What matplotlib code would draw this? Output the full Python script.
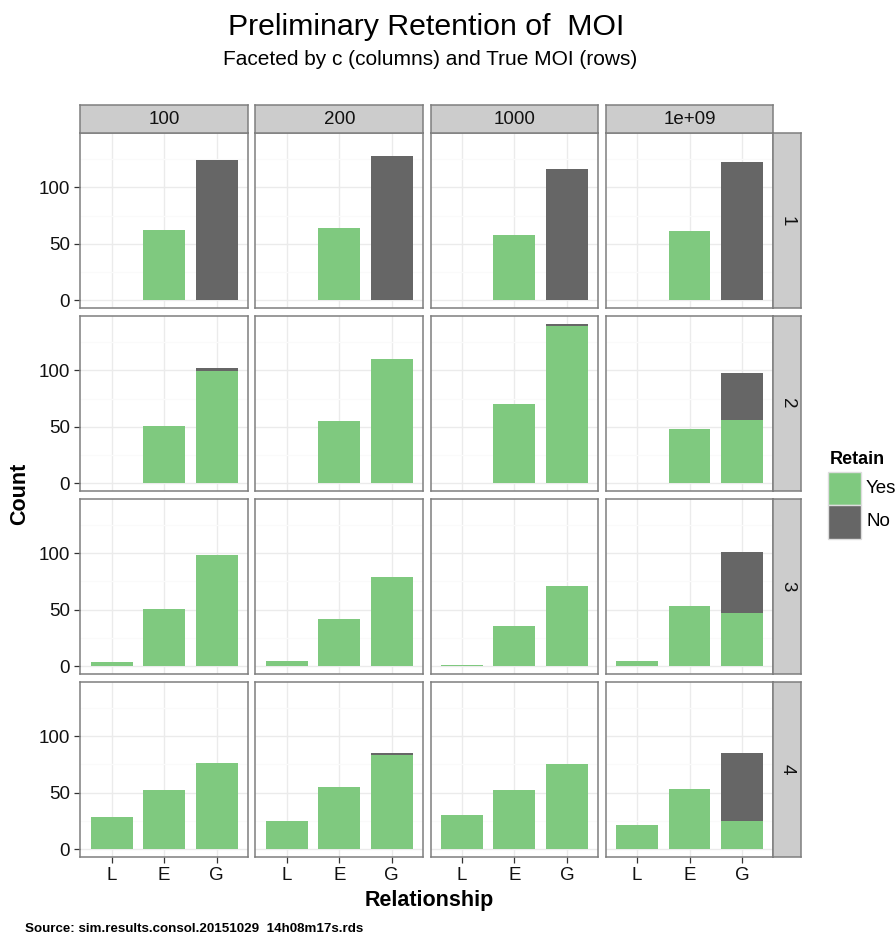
import matplotlib
matplotlib.use("Agg")
import matplotlib.pyplot as plt
from matplotlib.patches import Rectangle

plt.rcParams['font.family'] = ['Liberation Sans', 'DejaVu Sans']

# Facet levels and categories
c_levels = ["100", "200", "1000", "1e+09"]
moi_levels = ["1", "2", "3", "4"]
relationship = ["L", "E", "G"]

# Counts per True MOI row; each row lists one [L, E, G] triple per c column
yes_moi1 = [[0, 62, 0], [0, 64, 0], [0, 58, 0], [0, 61, 0]]
no_moi1 = [[0, 0, 124], [0, 0, 128], [0, 0, 116], [0, 0, 122]]

yes_moi2 = [[0, 51, 99], [0, 55, 110], [0, 70, 139], [0, 48, 56]]
no_moi2 = [[0, 0, 3], [0, 0, 0], [0, 0, 2], [0, 0, 42]]

yes_moi3 = [[4, 51, 98], [5, 42, 79], [1, 36, 71], [5, 53, 47]]
no_moi3 = [[0, 0, 0], [0, 0, 0], [0, 0, 0], [0, 0, 54]]

yes_moi4 = [[28, 52, 76], [25, 55, 83], [30, 52, 75], [21, 53, 25]]
no_moi4 = [[0, 0, 0], [0, 0, 2], [0, 0, 0], [0, 0, 60]]

yes_rows = [yes_moi1, yes_moi2, yes_moi3, yes_moi4]
no_rows = [no_moi1, no_moi2, no_moi3, no_moi4]

GREEN = "#7FC97F"
DARK = "#666666"
BORDER = "#7F7F7F"
STRIP = "#CCCCCC"

W, H = 896, 935
fig = plt.figure(figsize=(W / 100, H / 100), dpi=100)


def fbox(x, y, w, h):
    """Pixel box (top-left origin) -> figure fraction rect."""
    return [x / W, 1 - (y + h) / H, w / W, h / H]


ymax = max(y + n for yr, nr in zip(yes_rows, no_rows)
           for yc, nc in zip(yr, nr) for y, n in zip(yc, nc))
ylim = (-0.05 * ymax, 1.05 * ymax)

x0, y0 = 80.3, 133.0
pw, ph = 167.8, 175.4
gx, gy = 7.3, 7.5
xpos = [1, 2, 3]

for i, moi in enumerate(moi_levels):
    for j, cval in enumerate(c_levels):
        left = x0 + j * (pw + gx)
        top = y0 + i * (ph + gy)
        ax = fig.add_axes(fbox(left, top, pw, ph))
        yes = yes_rows[i][j]
        no = no_rows[i][j]
        ax.bar(xpos, yes, width=0.8, color=GREEN, linewidth=0, zorder=2)
        ax.bar(xpos, no, width=0.8, bottom=yes, color=DARK, linewidth=0, zorder=2)
        ax.set_xlim(0.4, 3.6)
        ax.set_ylim(*ylim)
        ax.set_xticks(xpos)
        ax.set_xticklabels(relationship)
        ax.set_yticks([0, 50, 100])
        ax.set_yticks([25, 75, 125], minor=True)
        ax.grid(which='major', color='#EBEBEB', linewidth=1.0, zorder=0)
        ax.grid(which='minor', axis='y', color='#FAFAFA', linewidth=1.0, zorder=0)
        ax.set_axisbelow(True)
        for s in ax.spines.values():
            s.set_color(BORDER)
            s.set_linewidth(1.1)
            s.set_zorder(3)
        ax.tick_params(which='minor', length=0)
        ax.tick_params(axis='both', which='major', length=4.5, width=0.9,
                       color='#333333', labelsize=13.5, labelcolor='#111111')
        ax.tick_params(axis='y', pad=3)
        ax.tick_params(axis='x', pad=2.5)
        if j != 0:
            ax.tick_params(axis='y', which='major', length=0, labelleft=False)
        if i != len(moi_levels) - 1:
            ax.tick_params(axis='x', which='major', length=0, labelbottom=False)

        # Column strip on top row
        if i == 0:
            sax = fig.add_axes(fbox(left, 105.3, pw, top - 105.3))
            sax.set_facecolor(STRIP)
            sax.set_xticks([]); sax.set_yticks([])
            for s in sax.spines.values():
                s.set_color(BORDER); s.set_linewidth(1.1)
            sax.text(0.5, 0.5, cval, ha='center', va='center', fontsize=13.5,
                     color='#111111', transform=sax.transAxes)
        # Row strip on right column
        if j == len(c_levels) - 1:
            rax = fig.add_axes(fbox(left + pw, top, 28.0, ph))
            rax.set_facecolor(STRIP)
            rax.set_xticks([]); rax.set_yticks([])
            for s in rax.spines.values():
                s.set_color(BORDER); s.set_linewidth(1.1)
            rax.text(0.5, 0.5, moi, ha='center', va='center', fontsize=13.5,
                     rotation=-90, color='#111111', transform=rax.transAxes)

# Titles
fig.text(426.5 / W, 1 - 35 / H, "Preliminary Retention of  MOI", ha='center',
         va='baseline', fontsize=21.8, color='black')
fig.text(430.5 / W, 1 - 65 / H, "Faceted by c (columns) and True MOI (rows)",
         ha='center', va='baseline', fontsize=15, color='black')

# Axis titles
fig.text(429.5 / W, 1 - 906 / H, "Relationship", ha='center', va='baseline',
         fontsize=15.5, fontweight='bold')
fig.text(20 / W, 1 - 494 / H, "Count", ha='center', va='center', rotation=90,
         fontsize=15.5, fontweight='bold')

# Legend
fig.text(830 / W, 1 - 464 / H, "Retain", ha='left', va='baseline',
         fontsize=13, fontweight='bold')
for k, (lab, col) in enumerate([("Yes", GREEN), ("No", DARK)]):
    ky = 472 + k * 33.3
    fig.patches.append(Rectangle((828 / W, 1 - (ky + 33.3) / H), 33 / W, 33.3 / H,
                                 transform=fig.transFigure, facecolor=col,
                                 edgecolor='#DDDDDD', linewidth=1.0))
    fig.text(866 / W, 1 - (ky + 16.7) / H, lab, ha='left', va='center', fontsize=13.5)

# Source note
fig.text(25 / W, 1 - 932 / H, "Source: sim.results.consol.20151029  14h08m17s.rds",
         ha='left', va='baseline', fontsize=9.6, fontweight='bold')

fig.savefig("out.png", dpi=100)
